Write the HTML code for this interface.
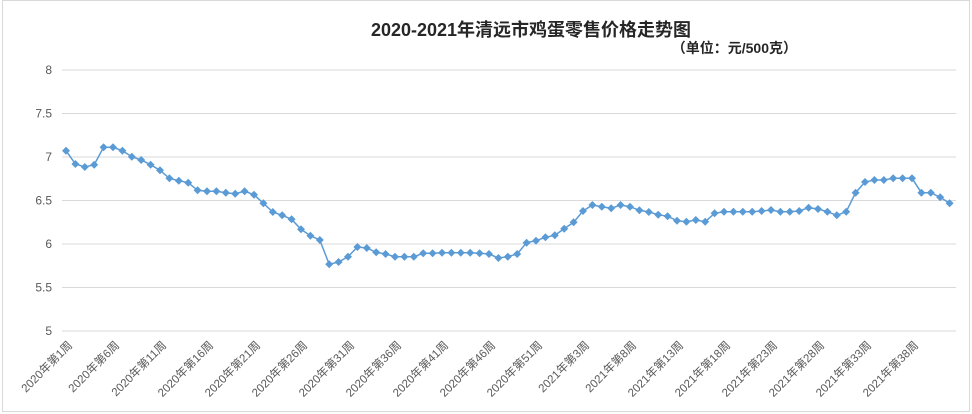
<!DOCTYPE html>
<html><head><meta charset="utf-8"><style>
body{margin:0;background:#fff;}
svg{display:block;font-family:"Liberation Sans","Noto Sans CJK SC",sans-serif;}
</style></head><body>
<svg id="s" width="972" height="414" xmlns="http://www.w3.org/2000/svg">
<rect x="0" y="0" width="972" height="414" fill="#fff"/>
<rect x="2.5" y="0.5" width="967" height="411" fill="none" stroke="#d9d9d9"/>
<text x="531" y="36" text-anchor="middle" font-size="18" font-weight="bold" fill="#262626">2020-2021年清远市鸡蛋零售价格走势图</text>
<text x="797" y="53" text-anchor="end" font-size="14" font-weight="bold" fill="#262626">（单位：元/500克）</text>
<g id="g"></g>
</svg>
<script>
var g=document.getElementById('g'),h='';
function Y(v){return 331-(v-5)*87;}
for(var i=0;i<=6;i++){var v=5+i*0.5,y=Y(v);h+='<line x1="62" x2="956" y1="'+y+'" y2="'+y+'" stroke="#d9d9d9"/>';h+='<text x="52" y="'+(y+4)+'" text-anchor="end" font-size="12" fill="#595959">'+(v%1?v:v.toFixed(0))+'</text>';}
var z1=[62,102,111,104,52,52,62,80,90,104,121,145,152,158,181,184,184,188,191,184,194,220,246,256,268,298,317,330,403,396,380,351,354,367,372,380,380,380,370,370,368,368,368,368,370];
var z2=[372,384,380,372,338,332,322,316,296,277,243,225,230,235,225,230,241,246,254,259,272,275,270,275,250,245,245,245,245,243,240,245,245,243,233,237,245,256,245,188,156,150,150,145,145,145,188,188,202,220];
var zs=z1.concat(z2),pts=[];
for(var n=0;n<zs.length;n++){var x=66+n*9.4,y=zs[n]/3+130;pts.push(x.toFixed(1)+','+y.toFixed(1));}
h+='<polyline points="'+pts.join(' ')+'" fill="none" stroke="#5b9bd5" stroke-width="1.5"/>';
pts.forEach(function(p){var a=p.split(','),x=+a[0],y=+a[1];h+='<path d="M'+x+' '+(y-4)+'L'+(x+4)+' '+y+'L'+x+' '+(y+4)+'L'+(x-4)+' '+y+'Z" fill="#5b9bd5"/>';});
for(var n=0;n<95;n+=5){var x=66+n*9.4,lab=n<53?'2020年第'+(n+1)+'周':'2021年第'+(n-52)+'周';
h+='<text transform="translate('+(x+7)+',346) rotate(-45)" text-anchor="end" font-size="11.5" fill="#595959">'+lab+'</text>';}
g.innerHTML=h;
</script>
</body></html>
